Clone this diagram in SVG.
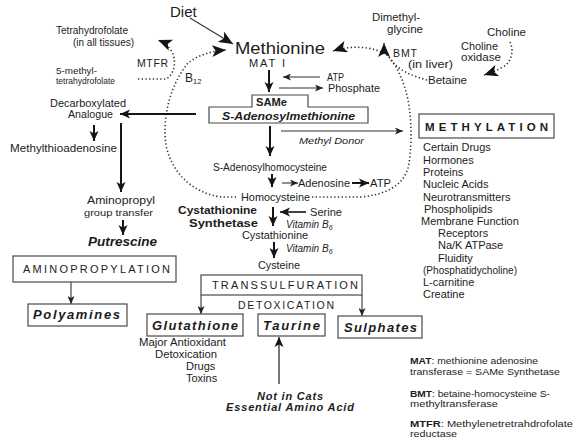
<svg xmlns="http://www.w3.org/2000/svg" width="580" height="444" viewBox="0 0 580 444">
<style>
svg{font-size:10.5px}
text{font-family:"Liberation Sans",Arial,sans-serif;fill:#1c1c1c}
.bi{font-weight:bold;font-style:italic}
.b{font-weight:bold}
.i{font-style:italic}
.box{fill:#fff;stroke:#4a4a4a;stroke-width:1.2}
.thk{stroke:#151515;stroke-width:2;fill:none}
.thn{stroke:#333;stroke-width:1.1;fill:none}
.dot{stroke:#333;stroke-width:1.6;stroke-dasharray:1.3 2.4;fill:none}
.lg{font-size:9.5px}
.li{font-size:11px}
</style>
<defs>
<marker id="ah" markerWidth="10" markerHeight="10" viewBox="0 0 10 10" refX="10" refY="5" orient="auto" markerUnits="userSpaceOnUse"><path d="M0,0.5 L10,5 L0,9.5 L2.5,5 z" fill="#151515"/></marker>
<marker id="as" markerWidth="8" markerHeight="7" viewBox="0 0 8 7" refX="8" refY="3.5" orient="auto" markerUnits="userSpaceOnUse"><path d="M0,0 L8,3.5 L0,7 L2,3.5 z" fill="#222"/></marker>
<marker id="ab" markerWidth="14" markerHeight="12" viewBox="0 0 14 12" refX="14" refY="6" orient="auto" markerUnits="userSpaceOnUse"><path d="M0,0 L14,6 L0,12 L3.5,6 z" fill="#151515"/></marker>
</defs>
<rect width="580" height="444" fill="#fff"/>

<g id="connectors">
  <line class="thn" x1="190" y1="18" x2="233" y2="44" marker-end="url(#ab)"/>
  <path class="dot" d="M236,197 L222,197 C195,194 172,175 166,145 C162,118 170,85 188,63 C198,55 212,51 226,50" marker-end="url(#ab)"/>
  <path class="dot" d="M138,79 L166,79 C174,75 177,62 172,52 C168,45 163,42 158,40" marker-end="url(#ab)"/>
  <path class="dot" d="M312,197 L360,197 C385,195 403,186 408,168 C412,150 412,120 408,100 C404,82 398,67 388,56 C378,48 360,46 346,48 C340,49 336,50 333,51" marker-end="url(#ab)"/>
  <path class="dot" d="M427,80 C412,76 398,70 391,60 C386,52 384,47 384,43" marker-end="url(#ab)"/>
  <path class="dot" d="M510,42 C514,50 512,62 503,67 C496,71 490,73 484,75" marker-end="url(#ab)"/>
  <line class="thn" x1="320" y1="77" x2="283" y2="77" marker-end="url(#as)"/>
  <line class="thn" x1="279" y1="88" x2="323" y2="88" marker-end="url(#as)"/>
  <line class="thk" x1="269" y1="70" x2="269" y2="92" marker-end="url(#ah)"/>
  <line class="thk" x1="196" y1="114" x2="120" y2="114" marker-end="url(#ah)"/>
  <line class="thk" x1="94" y1="125" x2="94" y2="141" marker-end="url(#ah)"/>
  <line class="thk" x1="121" y1="123" x2="121" y2="192" marker-end="url(#ah)"/>
  <line class="thk" x1="123" y1="220" x2="123" y2="235" marker-end="url(#ah)"/>
  <line class="thn" x1="71" y1="282" x2="71" y2="304" marker-end="url(#as)"/>
  <line class="thn" x1="281" y1="131" x2="403" y2="131" marker-end="url(#as)"/>
  <line class="thk" x1="270" y1="126" x2="270" y2="156" marker-end="url(#ah)"/>
  <line class="thk" x1="272" y1="174" x2="272" y2="187" marker-end="url(#ah)"/>
  <line class="thn" x1="282" y1="183" x2="298" y2="183" marker-end="url(#as)"/>
  <line class="thk" x1="352" y1="183" x2="369" y2="183" marker-end="url(#ah)"/>
  <line class="thk" x1="273" y1="207" x2="273" y2="226" marker-end="url(#ah)"/>
  <line class="thk" style="stroke-width:1.6" x1="306" y1="212" x2="280" y2="212" marker-end="url(#ah)"/>
  <line class="thk" x1="274" y1="242" x2="274" y2="258" marker-end="url(#ah)"/>
  <line class="thn" x1="201" y1="295" x2="201" y2="314" marker-end="url(#as)"/>
  <line class="thn" x1="362" y1="295" x2="362" y2="316" marker-end="url(#as)"/>
  <line class="thn" style="stroke:#555;stroke-width:1.6" x1="279" y1="384" x2="279" y2="337" marker-end="url(#ah)"/>
</g>

<g id="diet"><text x="170" y="17" font-size="15">Diet</text></g>
<g id="tetrahydrofolate">
  <text x="56" y="34" font-size="10" textLength="72" lengthAdjust="spacingAndGlyphs">Tetrahydrofolate</text>
  <text x="73" y="46" font-size="10" textLength="61" lengthAdjust="spacingAndGlyphs">(in all tissues)</text>
</g>
<g id="mtfr"><text x="137" y="67" font-size="10.5" textLength="31">MTFR</text></g>
<g id="methyl-thf">
  <text x="56" y="74" font-size="9" textLength="41" lengthAdjust="spacingAndGlyphs">5-methyl-</text>
  <text x="56" y="84" font-size="9" textLength="59" lengthAdjust="spacingAndGlyphs">tetrahydrofolate</text>
</g>
<g id="b12"><text x="185" y="82" font-size="12">B<tspan font-size="7.5" dy="2">12</tspan></text></g>
<g id="methionine">
  <text x="235" y="54" font-size="17" textLength="90" lengthAdjust="spacingAndGlyphs">Methionine</text>
  <text x="249" y="67" font-size="11" textLength="36">MAT I</text>
</g>
<g id="atp-in"><text x="327" y="81" font-size="10" textLength="17" lengthAdjust="spacingAndGlyphs">ATP</text></g>
<g id="phosphate"><text x="328" y="92" font-size="10.5" textLength="52" lengthAdjust="spacingAndGlyphs">Phosphate</text></g>
<g id="same">
  <path class="box" d="M252,95 H308 V107 H368 V123 H209 V107 H252 Z"/>
  <text x="256" y="106" class="b" font-size="11" textLength="31" lengthAdjust="spacingAndGlyphs">SAMe</text>
  <text x="222" y="120" class="bi" font-size="11.7" textLength="133" lengthAdjust="spacingAndGlyphs">S-Adenosylmethionine</text>
</g>
<g id="decarboxylated">
  <text x="50" y="107" textLength="76" lengthAdjust="spacingAndGlyphs">Decarboxylated</text>
  <text x="68" y="118" textLength="45" lengthAdjust="spacingAndGlyphs">Analogue</text>
</g>
<g id="mta"><text x="10" y="152" textLength="107" lengthAdjust="spacingAndGlyphs">Methylthioadenosine</text></g>
<g id="aminopropyl">
  <text x="87" y="204" font-size="11" textLength="68" lengthAdjust="spacingAndGlyphs">Aminopropyl</text>
  <text x="84" y="216" font-size="9.5" textLength="69" lengthAdjust="spacingAndGlyphs">group transfer</text>
</g>
<g id="putrescine"><text x="88" y="246" class="bi" font-size="12" textLength="69" lengthAdjust="spacingAndGlyphs">Putrescine</text></g>
<g id="aminopropylation">
  <rect class="box" x="13" y="256" width="163" height="26"/>
  <text x="23" y="273" font-size="11" textLength="147">AMINOPROPYLATION</text>
</g>
<g id="polyamines">
  <rect class="box" x="28" y="304" width="99" height="22"/>
  <text x="33" y="319" class="bi" font-size="13" textLength="87">Polyamines</text>
</g>
<g id="dimethylglycine">
  <text x="372" y="21" font-size="10" textLength="48" lengthAdjust="spacingAndGlyphs">Dimethyl-</text>
  <text x="387" y="33" font-size="10" textLength="36" lengthAdjust="spacingAndGlyphs">glycine</text>
</g>
<g id="bmt">
  <text x="393" y="57" font-size="10.5" textLength="24">BMT</text>
  <text x="408" y="68" font-size="10.5" textLength="45" lengthAdjust="spacingAndGlyphs">(in liver)</text>
</g>
<g id="choline"><text x="487" y="36" font-size="11" textLength="39" lengthAdjust="spacingAndGlyphs">Choline</text></g>
<g id="choline-oxidase">
  <text x="461" y="50" font-size="11" textLength="37" lengthAdjust="spacingAndGlyphs">Choline</text>
  <text x="461" y="61" font-size="11" textLength="40" lengthAdjust="spacingAndGlyphs">oxidase</text>
</g>
<g id="betaine"><text x="428" y="84" textLength="39" lengthAdjust="spacingAndGlyphs">Betaine</text></g>
<g id="methylation">
  <rect class="box" x="419" y="114" width="135" height="24"/>
  <text x="425" y="131" class="b" font-size="11.5" textLength="123">METHYLATION</text>
</g>
<g id="methyl-donor"><text x="299" y="144" class="i" font-size="9.5" textLength="65" lengthAdjust="spacingAndGlyphs">Methyl Donor</text></g>
<g id="methylation-targets">
  <text class="li" x="423" y="151">Certain Drugs</text>
  <text class="li" x="423" y="164">Hormones</text>
  <text class="li" x="423" y="176">Proteins</text>
  <text class="li" x="423" y="188">Nucleic Acids</text>
  <text class="li" x="423" y="201">Neurotransmitters</text>
  <text class="li" x="424" y="213">Phospholipids</text>
  <text class="li" x="421" y="225">Membrane Function</text>
  <text class="li" x="438" y="237">Receptors</text>
  <text class="li" x="438" y="249">Na/K ATPase</text>
  <text class="li" x="438" y="262">Fluidity</text>
  <text class="li" x="423" y="274" textLength="94" lengthAdjust="spacingAndGlyphs">(Phosphatidycholine)</text>
  <text class="li" x="423" y="286">L-carnitine</text>
  <text class="li" x="423" y="298">Creatine</text>
</g>
<g id="sah"><text x="213" y="171" font-size="10" textLength="114" lengthAdjust="spacingAndGlyphs">S-Adenosylhomocysteine</text></g>
<g id="adenosine"><text x="298" y="187" textLength="52" lengthAdjust="spacingAndGlyphs">Adenosine</text></g>
<g id="atp-out"><text x="370" y="187" textLength="21" lengthAdjust="spacingAndGlyphs">ATP</text></g>
<g id="homocysteine"><text x="241" y="201" textLength="69" lengthAdjust="spacingAndGlyphs">Homocysteine</text></g>
<g id="cystathionine-synthetase">
  <text x="178" y="214" class="b" font-size="11.5" textLength="79" lengthAdjust="spacingAndGlyphs">Cystathionine</text>
  <text x="189" y="227" class="b" font-size="11.5" textLength="69" lengthAdjust="spacingAndGlyphs">Synthetase</text>
</g>
<g id="serine"><text x="310" y="216" textLength="32" lengthAdjust="spacingAndGlyphs">Serine</text></g>
<g id="vitb6-1"><text x="286" y="228" class="i" font-size="10">Vitamin B<tspan font-size="7" dy="2">6</tspan></text></g>
<g id="cystathionine"><text x="242" y="239" textLength="66" lengthAdjust="spacingAndGlyphs">Cystathionine</text></g>
<g id="vitb6-2"><text x="286" y="252" class="i" font-size="10">Vitamin B<tspan font-size="7" dy="2">6</tspan></text></g>
<g id="cysteine"><text x="258" y="269" textLength="42" lengthAdjust="spacingAndGlyphs">Cysteine</text></g>
<g id="transsulfuration">
  <rect class="box" x="201" y="275" width="161" height="20"/>
  <text x="212" y="289" font-size="11" textLength="146">TRANSSULFURATION</text>
</g>
<g id="detoxication"><text x="238" y="309" textLength="96">DETOXICATION</text></g>
<g id="glutathione">
  <rect class="box" x="147" y="314" width="96" height="22"/>
  <text x="152" y="330" class="bi" font-size="13" textLength="86">Glutathione</text>
</g>
<g id="taurine">
  <rect class="box" x="258" y="314" width="67" height="22"/>
  <text x="263" y="330" class="bi" font-size="13" textLength="57">Taurine</text>
</g>
<g id="sulphates">
  <rect class="box" x="338" y="316" width="84" height="22"/>
  <text x="344" y="332" class="bi" font-size="13" textLength="73">Sulphates</text>
</g>
<g id="glutathione-roles">
  <text class="li" x="139" y="346" textLength="87" lengthAdjust="spacingAndGlyphs">Major Antioxidant</text>
  <text class="li" x="155" y="358" textLength="62" lengthAdjust="spacingAndGlyphs">Detoxication</text>
  <text class="li" x="186" y="370">Drugs</text>
  <text class="li" x="186" y="382">Toxins</text>
</g>
<g id="not-in-cats">
  <text x="257" y="400" class="bi" font-size="11" textLength="66">Not in Cats</text>
  <text x="226" y="411" class="bi" font-size="11" textLength="128">Essential Amino Acid</text>
</g>
<g id="legend">
  <text class="lg" x="410" y="364" textLength="128" lengthAdjust="spacingAndGlyphs"><tspan class="b">MAT</tspan>: methionine adenosine</text>
  <text class="lg" x="410" y="375" textLength="150" lengthAdjust="spacingAndGlyphs">transferase = SAMe Synthetase</text>
  <text class="lg" x="410" y="397" textLength="140" lengthAdjust="spacingAndGlyphs"><tspan class="b">BMT</tspan>: betaine-homocysteine S-</text>
  <text class="lg" x="410" y="407" textLength="88" lengthAdjust="spacingAndGlyphs">methyltransferase</text>
  <text class="lg" x="410" y="427" textLength="163" lengthAdjust="spacingAndGlyphs"><tspan class="b">MTFR</tspan>: Methylenetretrahdrofolate</text>
  <text class="lg" x="410" y="437" textLength="47" lengthAdjust="spacingAndGlyphs">reductase</text>
</g>
</svg>
